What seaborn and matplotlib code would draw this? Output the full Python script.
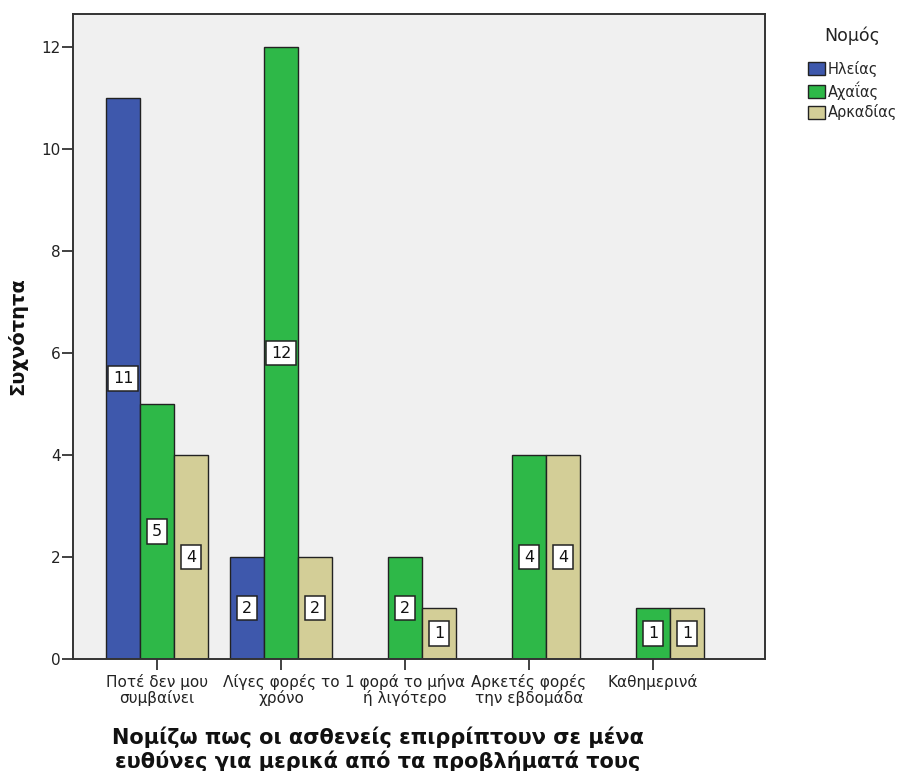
import numpy as np
import pandas as pd
import matplotlib
matplotlib.use("Agg")
import matplotlib.pyplot as plt
import seaborn as sns
from matplotlib.patches import Patch

categories = [
    "Ποτέ δεν μου\nσυμβαίνει",
    "Λίγες φορές το\nχρόνο",
    "1 φορά το μήνα\nή λιγότερο",
    "Αρκετές φορές\nτην εβδομάδα",
    "Καθημερινά",
]
regions = ["Ηλείας", "Αχαΐας", "Αρκαδίας"]
ileias = [11, 2, np.nan, np.nan, np.nan]
achaias = [5, 12, 2, 4, 1]
arkadias = [4, 2, 1, 4, 1]
colors = ["#3E58AC", "#2EB848", "#D3CE97"]

rows = []
for reg, vals in zip(regions, [ileias, achaias, arkadias]):
    for cat, v in zip(categories, vals):
        rows.append({"cat": cat, "region": reg, "count": v})
df = pd.DataFrame(rows)

sns.set_style("white")
plt.rcParams["font.family"] = ["DejaVu Sans"]

fig = plt.figure(figsize=(9.02, 7.71), dpi=100)
ax = fig.add_axes([73 / 902, 1 - 659 / 771, (765 - 73) / 902, (659 - 14) / 771])
ax.set_facecolor("#F0F0F0")

sns.barplot(data=df, x="cat", y="count", hue="region", order=categories,
            hue_order=regions, palette=colors, width=0.82, dodge=True,
            edgecolor="#222222", linewidth=1.0, saturation=1, legend=False,
            errorbar=None, ax=ax)

for cont in ax.containers:
    ax.bar_label(cont, fmt="%d", label_type="center", fontsize=11.5,
                 color="#111111",
                 bbox=dict(boxstyle="square,pad=0.3", fc="white",
                           ec="#222222", lw=1.1))

ax.set_xlim(-0.677, 4.903)
ax.set_ylim(0, 12.65)
ax.set_yticks([0, 2, 4, 6, 8, 10, 12])
ax.tick_params(axis="both", which="major", bottom=True, left=True,
               direction="out", length=8, width=1.3, color="#333333",
               labelsize=11, labelcolor="#222222")
ax.tick_params(axis="y", pad=1)
ax.tick_params(axis="x", pad=3)
for lbl in ax.get_xticklabels():
    lbl.set_linespacing(0.95)
for s in ax.spines.values():
    s.set_color("#333333")
    s.set_linewidth(1.4)
ax.set_xlabel("")
ax.set_ylabel("Συχνότητα", fontsize=14, fontweight="bold", labelpad=10,
              color="#111111")

fig.text(378 / 902, 1 - 749 / 771,
         "Νομίζω πως οι ασθενείς επιρρίπτουν σε μένα\nευθύνες για μερικά από τα προβλήματά τους",
         ha="center", va="center", fontsize=15, fontweight="bold",
         linespacing=1.15, color="#111111")

# Legend: title drawn on its own, entries below it
fig.text(852 / 902, 1 - 36 / 771, "Νομός", ha="center", va="center",
         fontsize=12.5, color="#222222")
handles = [Patch(facecolor=c, edgecolor="#222222", lw=1.0) for c in colors]
leg = fig.legend(handles, regions, loc="upper left",
                 bbox_to_anchor=(802 / 902, 1 - 55 / 771), frameon=False,
                 fontsize=10.5, handlelength=1.2, handleheight=1.0,
                 handletextpad=0.15, labelspacing=0.3, borderaxespad=0)

fig.savefig("out.png", dpi=100)
